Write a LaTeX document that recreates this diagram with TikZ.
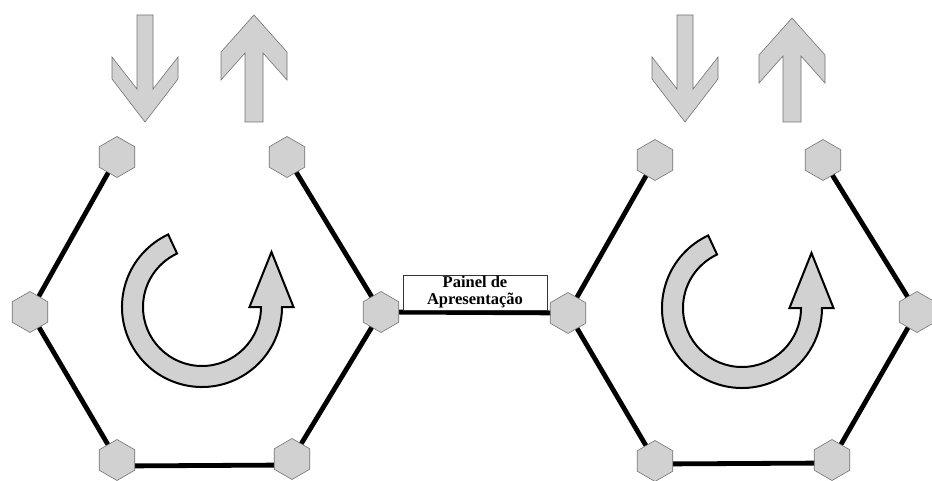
\documentclass[tikz,border=0pt]{standalone}
\usepackage{fontspec}
\setmainfont{Liberation Serif}
\usetikzlibrary{shapes.geometric,backgrounds}
\definecolor{hexfill}{gray}{0.82}
\definecolor{hexline}{gray}{0.45}
\tikzset{
  hexnode/.style={regular polygon, regular polygon sides=6, rotate=90,
    minimum size=41pt, inner sep=0pt, fill=hexfill, draw=hexline, line width=0.6pt},
  edgeline/.style={line width=4.8pt, black},
  bigarrow/.style={fill=hexfill, draw=hexline, line width=0.6pt, line join=miter},
  roundarrow/.style={fill=hexfill, draw=black, line width=2pt, line join=miter},
  panel/.style={draw=black!80, line width=0.6pt, fill=white, minimum width=144pt,
    minimum height=35pt, inner sep=0pt, align=center,
    font=\fontsize{16.5}{17}\selectfont\bfseries}
}
\newcommand{\downarrowshape}[1]{%
  \draw[bigarrow] (#1-8,15) -- (#1+8,15) -- (#1+8,89) -- (#1+33,57) -- (#1+33,79)
    -- (#1,122) -- (#1-33,79) -- (#1-33,57) -- (#1-8,89) -- cycle;}
\newcommand{\uparrowshape}[2]{%
  \draw[bigarrow] (#1,#2) -- (#1+33,#2+37) -- (#1+33,#2+65) -- (#1+9,#2+38)
    -- (#1+9,122) -- (#1-9,122) -- (#1-9,#2+38) -- (#1-33,#2+65) -- (#1-33,#2+37) -- cycle;}
\newcommand{\roundarrowshape}[2]{%
  \begin{scope}[shift={(#1,#2)}, y=1pt]
    \draw[roundarrow] (115:80) arc[start angle=115, end angle=360, radius=80]
      -- (91.5,0) -- (69.5,55) -- (47.5,0) -- (59,0)
      arc[start angle=360, end angle=115, radius=59] -- cycle;
  \end{scope}}
\begin{document}
\begin{tikzpicture}[x=1pt,y=-1pt]
\useasboundingbox (0,0) rectangle (932,481);
% straight arrows
\downarrowshape{145}
\uparrowshape{254}{15}
\downarrowshape{685}
\uparrowshape{792}{18}
% round arrows
\roundarrowshape{202}{307}
\roundarrowshape{742}{308}
% left hexagon nodes
\node[hexnode] (La) at (117,157) {};
\node[hexnode] (Lb) at (287,157) {};
\node[hexnode] (Lc) at (381,312) {};
\node[hexnode] (Ld) at (292,459) {};
\node[hexnode] (Le) at (117,460) {};
\node[hexnode] (Lf) at (30,312) {};
% right hexagon nodes
\node[hexnode] (Ra) at (655,160) {};
\node[hexnode] (Rb) at (823,160) {};
\node[hexnode] (Rc) at (917,312) {};
\node[hexnode] (Rd) at (832,460) {};
\node[hexnode] (Re) at (655,461) {};
\node[hexnode] (Rf) at (568,313) {};
% panel
\node[panel] (P) at (475,292.5) {Painel de\\Apresentação};
\begin{pgfonlayer}{background}
\draw[edgeline] (La.center) -- (Lf.center);
\draw[edgeline] (Lf.center) -- (Le.center);
\draw[edgeline] ([yshift=-6pt]Le.center) -- ([yshift=-6pt]Ld.center);
\draw[edgeline] (Ld.center) -- (Lc.center);
\draw[edgeline] (Lc.center) -- (Lb.center);
\draw[edgeline] (Ra.center) -- (Rf.center);
\draw[edgeline] (Rf.center) -- (Re.center);
\draw[edgeline] ([yshift=-3pt]Re.center) -- ([yshift=-3pt]Rd.center);
\draw[edgeline] (Rd.center) -- (Rc.center);
\draw[edgeline] (Rc.center) -- (Rb.center);
\draw[edgeline] (Lc.center) -- (Rf.center);
\end{pgfonlayer}
\end{tikzpicture}
\end{document}
